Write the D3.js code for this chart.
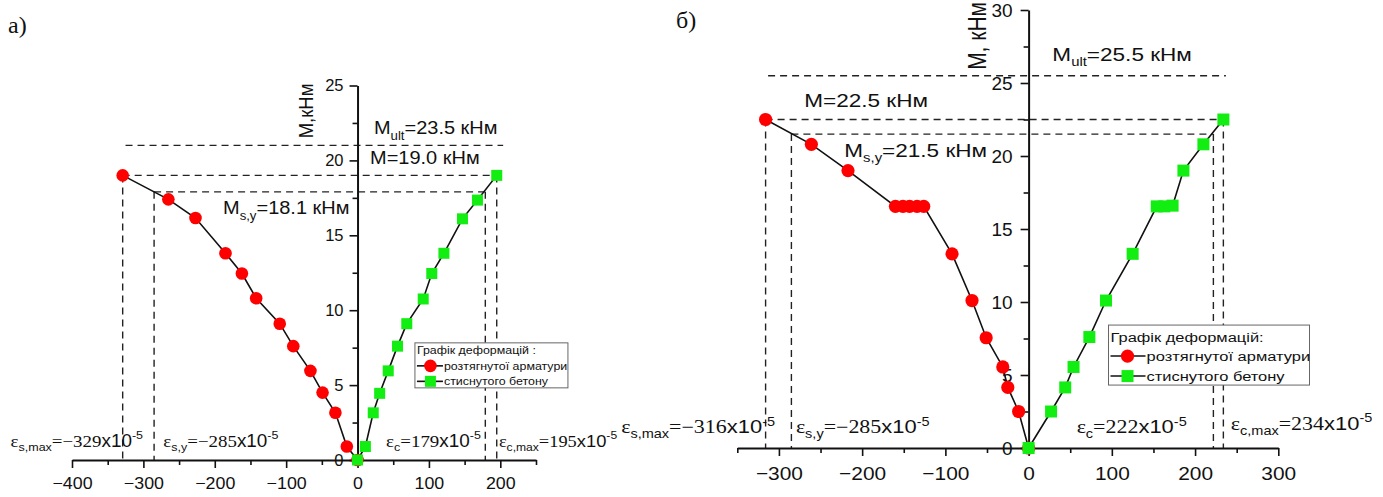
<!DOCTYPE html>
<html>
<head>
<meta charset="utf-8">
<script src="https://cdn.jsdelivr.net/npm/d3@7"></script>
<style>body { margin: 0; background: #fff; }</style>
</head>
<body>
<div id="chart"></div>
<script>
// ---- panel а) : strain (x10^-5) vs moment (kNm)
var aSteel = [[-329, 19.0], [-265, 17.4], [-227, 16.15], [-185, 13.8], [-162, 12.45], [-142, 10.8],
  [-109, 9.1], [-90, 7.6], [-66, 5.95], [-49, 4.5], [-31, 3.15], [-15, 0.9], [0, 0]];
var aConcrete = [[0, 0], [11, 0.9], [22, 3.15], [31, 4.45], [43, 5.95], [56, 7.6], [69, 9.1],
  [92, 10.75], [104, 12.45], [121, 13.8], [147, 16.1], [168, 17.35], [195, 19.0]];
var aHLines = [[21.0, -325, 204], [19.0, -329, 195], [17.9, -285, 179]];   // [M, x1, x2]
var aVLines = [[-329, 19.0], [-285, 17.9], [179, 17.9], [195, 19.0]];     // [x, Mtop]
var aXTicks = [-400, -300, -200, -100, 0, 100, 200];
var aXMinor = [-350, -250, -150, -50, 50, 150, 250];
var aYTicks = [0, 5, 10, 15, 20, 25];
var aYMinor = [2.5, 7.5, 12.5, 17.5, 22.5];

// ---- panel б)
var bSteel = [[-316, 22.5], [-261, 20.8], [-217, 19.0], [-160, 16.55], [-151, 16.55], [-143, 16.55],
  [-134, 16.55], [-126, 16.55], [-92, 13.3], [-68, 10.1], [-51, 7.55], [-31, 5.55], [-25, 4.15],
  [-12, 2.5], [0, 0]];
var bConcrete = [[0, 0], [27, 2.5], [44, 4.15], [54, 5.55], [73, 7.6], [93, 10.1], [125, 13.3],
  [154, 16.55], [163, 16.55], [173, 16.6], [186, 19.0], [210, 20.8], [234, 22.5]];
var bHLines = [[25.5, -313, 237], [22.5, -316, 234], [21.5, -285, 222]];
var bVLines = [[-316, 22.5], [-285, 21.5], [222, 21.5], [234, 22.5]];
var bXTicks = [-300, -200, -100, 0, 100, 200, 300];
var bXMinor = [-350, -250, -150, -50, 50, 150, 250];
var bYTicks = [0, 5, 10, 15, 20, 25, 30];
var bYMinor = [2.5, 7.5, 12.5, 17.5, 22.5, 27.5];

var legendTitleA = 'Графік деформацій :', legendTitleB = 'Графік деформацій:';
var legendItems = ['розтягнутої арматури', 'стиснутого бетону'];

var SANS = '"Liberation Sans", Arial, sans-serif';
var SERIF = '"Liberation Serif", "Times New Roman", serif';
var RED = '#ff0000', GREEN = '#12ee12', INK = '#111';

var svg = d3.select('#chart').append('svg').attr('width', 1383).attr('height', 497);

// text made of parts: [text, 'sub'|'sup'|'', 'r' for serif]
function rich(g, x, y, parts, size, sx) {
  var t = g.append('text').attr('transform', 'translate(' + x + ',' + y + ') scale(' + sx + ',1)')
    .attr('font-size', size).attr('fill', INK);
  var shift = 0;
  parts.forEach(function(p) {
    var k = p[1] || '';
    var target = k === 'sub' ? 0.28 * size : k === 'sup' ? -0.42 * size : 0;
    t.append('tspan').text(p[0])
      .attr('font-family', p[2] === 'r' ? SERIF : SANS)
      .attr('font-size', k ? size * 0.66 : size)
      .attr('dy', target - shift);
    shift = target;
  });
  return t;
}
function eps(sub, val) {
  return [['ε', '', 'r'], [sub, 'sub'], [val, '', 'r'], ['x10'], ['-5', 'sup']];
}

function panel(c) {
  var g = svg.append('g');
  var x = d3.scaleLinear().domain(c.xDomain).range(c.xRange);
  var y = d3.scaleLinear().domain(c.yDomain).range(c.yRange);

  // dashed reference lines
  c.hLines.forEach(function(d) {
    g.append('line').attr('x1', x(d[1])).attr('x2', x(d[2])).attr('y1', y(d[0])).attr('y2', y(d[0]))
      .attr('stroke', '#222').attr('stroke-width', 1.4).attr('stroke-dasharray', '7,5');
  });
  c.vLines.forEach(function(d) {
    g.append('line').attr('x1', x(d[0])).attr('x2', x(d[0])).attr('y1', y(d[1])).attr('y2', y(0))
      .attr('stroke', '#222').attr('stroke-width', 1.4).attr('stroke-dasharray', '7,5');
  });

  // axes
  function style(s, fs) {
    s.select('.domain').attr('stroke', INK).attr('stroke-width', 2);
    s.selectAll('.tick line').attr('stroke', INK).attr('stroke-width', 1.6);
    s.selectAll('.tick text').attr('fill', INK).attr('font-size', fs).attr('font-family', SANS);
  }
  g.append('g').attr('transform', 'translate(0,' + y(0) + ')')
    .call(d3.axisBottom(x).tickValues(c.xMinor).tickSize(5).tickFormat(''))
    .call(function(s) { s.select('.domain').remove(); style(s, c.fs); });
  g.append('g').attr('transform', 'translate(0,' + y(0) + ')')
    .call(d3.axisBottom(x).tickValues(c.xTicks).tickSize(8).tickSizeOuter(0).tickPadding(c.xPad))
    .call(function(s) { style(s, c.fs); s.selectAll('.tick text').attr('transform', 'scale(' + c.sxTick + ',1)')
      .attr('x', 0); });
  g.append('g').attr('transform', 'translate(' + x(0) + ',0)')
    .call(d3.axisLeft(y).tickValues(c.yMinor).tickSize(5).tickFormat(''))
    .call(function(s) { s.select('.domain').remove(); style(s, c.fs); });
  g.append('g').attr('transform', 'translate(' + x(0) + ',0)')
    .call(d3.axisLeft(y).tickValues(c.yTicks).tickSize(8).tickSizeOuter(0).tickPadding(c.yPad))
    .call(function(s) { style(s, c.fs); });

  // series
  var line = d3.line().x(function(d) { return x(d[0]); }).y(function(d) { return y(d[1]); });
  [c.steel, c.concrete].forEach(function(s) {
    g.append('path').datum(s).attr('d', line).attr('fill', 'none').attr('stroke', INK).attr('stroke-width', 1.6);
  });
  g.selectAll('circle.st').data(c.steel).join('circle').attr('class', 'st')
    .attr('cx', function(d) { return x(d[0]); }).attr('cy', function(d) { return y(d[1]); })
    .attr('r', c.r).attr('fill', RED);
  g.selectAll('rect.cn').data(c.concrete).join('rect').attr('class', 'cn')
    .attr('x', function(d) { return x(d[0]) - c.sq / 2; }).attr('y', function(d) { return y(d[1]) - c.sq / 2; })
    .attr('width', c.sq).attr('height', c.sq).attr('fill', GREEN);

  // annotations
  c.notes.forEach(function(n) { rich(g, x(n[0]), y(n[1]), n[2], n[3], c.sx); });
  g.append('text')
    .attr('transform', 'translate(' + x(c.yLabel[0]) + ',' + y(c.yLabel[1]) + ') rotate(-90) scale(1,' + c.sx + ')')
    .attr('text-anchor', c.yLabel[3]).attr('font-family', SANS).attr('font-size', c.yLabel[4]).attr('fill', INK)
    .text(c.yLabel[2]);

  // legend
  var L = c.legend, lx = x(L.at[0]), ly = y(L.at[1]);
  var lg = g.append('g').attr('transform', 'translate(' + lx + ',' + ly + ')');
  lg.append('rect').attr('width', L.w).attr('height', L.h).attr('fill', '#fff')
    .attr('stroke', '#666').attr('stroke-width', 1);
  rich(lg, 2, L.titleY, [[L.title]], L.fs, c.sx);
  L.rows.forEach(function(ry, i) {
    lg.append('line').attr('x1', 2).attr('x2', L.lineEnd).attr('y1', ry).attr('y2', ry)
      .attr('stroke', INK).attr('stroke-width', 1.6);
    if (i === 0) lg.append('circle').attr('cx', L.mark).attr('cy', ry).attr('r', c.r).attr('fill', RED);
    else lg.append('rect').attr('x', L.mark - c.sq / 2).attr('y', ry - c.sq / 2)
      .attr('width', c.sq).attr('height', c.sq).attr('fill', GREEN);
    rich(lg, L.lineEnd + 1, ry + L.fs * 0.36, [[legendItems[i]]], L.fs, c.sx);
  });
}

panel({
  xDomain: [-400, 250], xRange: [72, 536], yDomain: [0, 25], yRange: [460, 85.5],
  steel: aSteel, concrete: aConcrete, hLines: aHLines, vLines: aVLines,
  xTicks: aXTicks, xMinor: aXMinor, yTicks: aYTicks, yMinor: aYMinor,
  fs: 16.5, xPad: 9, yPad: 6, sx: 1.08, sxTick: 1.08, r: 6.3, sq: 11,
  notes: [
    [23, 21.73, [['M'], ['ult', 'sub'], ['=23.5 кНм']], 18.5],
    [17.5, 19.73, [['M=19.0 кНм']], 18.5],
    [-188.5, 16.4, [['M'], ['s,y', 'sub'], ['=18.1 кНм']], 18.5],
    [-486, 0.9, eps('s,max', '=−329'), 17.5],
    [-272, 0.9, eps('s,y', '=−285'), 17.5],
    [40, 0.9, eps('c', '=179'), 17.5],
    [198, 0.9, eps('c,max', '=195'), 17]
  ],
  yLabel: [-62, 23.3, 'M,кНм', 'middle', 18.5],
  legend: { at: [80.4, 7.82], w: 153, h: 45, title: legendTitleA, titleY: 11, fs: 11.5,
    rows: [23, 38.5], lineEnd: 28, mark: 15.5 }
});

panel({
  xDomain: [-350, 300], xRange: [737.3, 1278.3], yDomain: [0, 30], yRange: [448, 10],
  steel: bSteel, concrete: bConcrete, hLines: bHLines, vLines: bVLines,
  xTicks: bXTicks, xMinor: bXMinor, yTicks: bYTicks, yMinor: bYMinor,
  fs: 19, xPad: 11, yPad: 8, sx: 1.22, sxTick: 1.1, r: 6.6, sq: 12,
  notes: [
    [28.5, 26.5, [['M'], ['ult', 'sub'], ['=25.5 кНм']], 18.5],
    [-269.6, 23.36, [['M=22.5 кНм']], 18.5],
    [-221.5, 19.95, [['M'], ['s,y', 'sub'], ['=21.5 кНм']], 18.5],
    [-489.5, 1.0, eps('s,max', '=−316'), 18],
    [-279.6, 1.0, eps('s,y', '=−285'), 18],
    [57.7, 1.0, eps('c', '=222'), 18],
    [243, 1.23, eps('c,max', '=234'), 18]
  ],
  yLabel: [-51, 25.9, 'M, кНм', 'start', 21],
  legend: { at: [96, 8.42], w: 201, h: 60, title: legendTitleB, titleY: 17, fs: 13.5,
    rows: [31, 51], lineEnd: 37, mark: 19 }
});

// panel captions
svg.append('text').attr('x', 8).attr('y', 33).attr('font-family', SERIF).attr('font-size', 24).attr('fill', INK).text('а)');
svg.append('text').attr('x', 676).attr('y', 28).attr('font-family', SERIF).attr('font-size', 24).attr('fill', INK).text('б)');
</script>
</body>
</html>
